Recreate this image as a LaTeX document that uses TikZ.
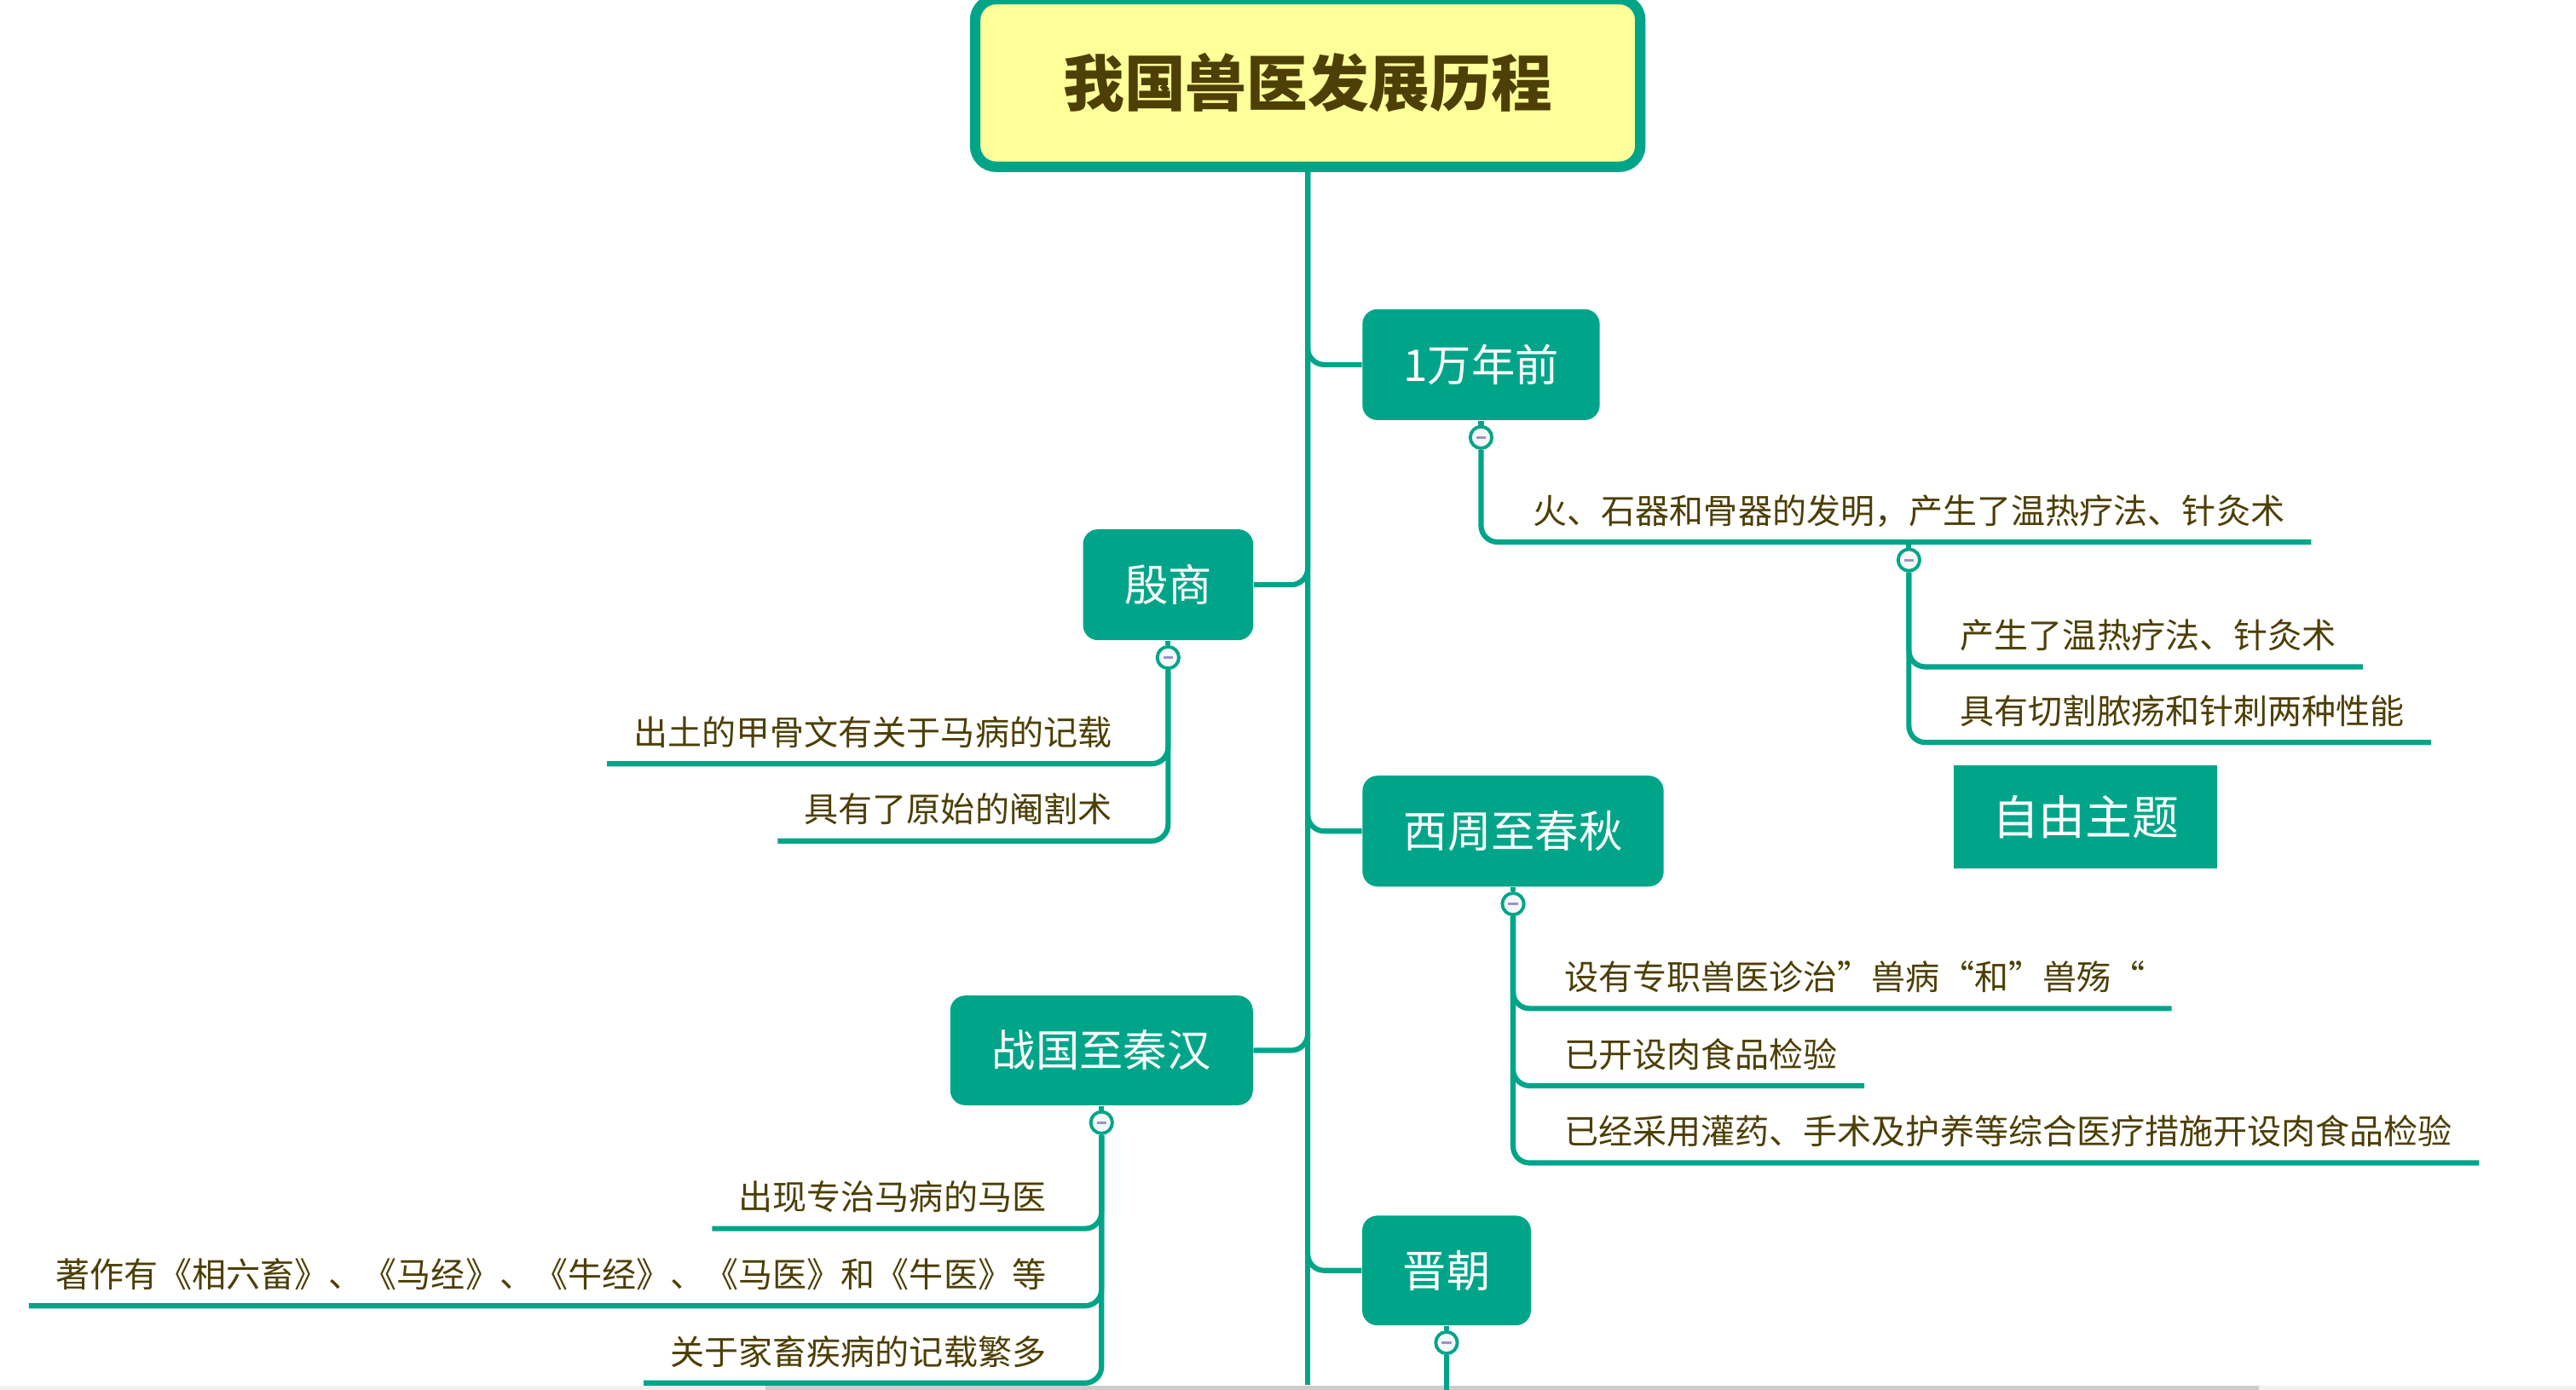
\documentclass[tikz,border=0pt]{standalone}
\usepackage{fontspec}
\setmainfont{Noto Sans CJK SC}
\definecolor{xteal}{RGB}{0,165,137}
\definecolor{xtext}{RGB}{77,63,5}
\definecolor{xroot}{RGB}{255,255,153}
\definecolor{xminus}{RGB}{150,150,200}
\begin{document}
\begin{tikzpicture}[x=0.019273cm,y=-0.019273cm,
  conn/.style={draw=xteal,line width=1.75pt,rounded corners=5.5pt},
  topic/.style={fill=xteal,text=white,rounded corners=5pt,inner sep=0pt,
    font=\fontsize{14.6}{16}\selectfont,minimum height=37pt},
  sub/.style={text=xtext,font=\fontsize{11.4}{13}\selectfont,inner xsep=8.7pt,
    inner ysep=0pt,text depth=6pt,text height=10pt},
  fold/.style={circle,draw=xteal,fill=black!3,line width=1.1pt,minimum size=7.2pt,inner sep=0pt,
    path picture={\draw[line width=0.9pt,draw=xminus]
      ([xshift=-1.6pt]path picture bounding box.center) -- ([xshift=1.6pt]path picture bounding box.center);}}
]
\useasboundingbox (0,0) rectangle (1568,846);
% scrollbar strip
\fill[black!6] (0,843.5) rectangle (1568,846);
\fill[black!20] (466,843.5) rectangle (1375,846);

% root
\node[draw=xteal,fill=xroot,line width=3.5pt,rounded corners=7pt,minimum width=222pt,
  minimum height=56pt,text=xtext,font=\fontsize{20.4}{24}\selectfont\bfseries] (root) at (796,50.5) {我国兽医发展历程};
\coordinate (trunkend) at (796,843);
\draw[conn] (root.south) -- (trunkend);

% topics
\node[topic,minimum width=79.2pt] (b1) at (901.5,222) {1万年前};
\node[topic,minimum width=56.8pt] (b2) at (711,356) {殷商};
\node[topic,minimum width=100.5pt] (b3) at (921,506) {西周至春秋};
\node[topic,minimum width=101pt,minimum height=36.6pt] (b4) at (670.5,639.5) {战国至秦汉};
\node[topic,minimum width=56.3pt,minimum height=36.6pt] (b5) at (880.5,773.5) {晋朝};
\node[fill=xteal,text=white,inner sep=0pt,font=\fontsize{15.6}{18}\selectfont,
  minimum width=88pt,minimum height=34.4pt] (free) at (1269.5,497.5) {自由主题};

\draw[conn] (root.south) |- (b1.west);
\draw[conn] (root.south) |- (b2.east);
\draw[conn] (root.south) |- (b3.west);
\draw[conn] (root.south) |- (b4.east);
\draw[conn] (root.south) |- (b5.west);

% fold markers
\foreach \b in {b1,b2,b3,b4,b5}{
  \node[fold] (f\b) at ([yshift=-5.6pt]\b.south) {};
  \draw[conn] (\b.south) -- (f\b.north);
}

% 1万年前
\node[sub,anchor=south west] (s11) at (917,330) {火、石器和骨器的发明，产生了温热疗法、针灸术};
\draw[conn] (fb1.south) |- (s11.south east);
\node[fold] (f11) at ([yshift=-6pt]s11.south) {};
\draw[conn] (s11.south) -- (f11.north);
\node[sub,anchor=south west] (s111) at (1177,406) {产生了温热疗法、针灸术};
\node[sub,anchor=south west] (s112) at (1177,452) {具有切割脓疡和针刺两种性能};
\draw[conn] (f11.south) |- (s111.south east);
\draw[conn] (f11.south) |- (s112.south east);

% 殷商
\node[sub,anchor=south east] (s21) at (693,465) {出土的甲骨文有关于马病的记载};
\node[sub,anchor=south east] (s22) at (693,512) {具有了原始的阉割术};
\draw[conn] (fb2.south) |- (s21.south west);
\draw[conn] (fb2.south) |- (s22.south west);

% 西周至春秋
\node[sub,anchor=south west] (s31) at (936,614) {设有专职兽医诊治”兽病“和”兽殇“};
\node[sub,anchor=south west] (s32) at (936,661) {已开设肉食品检验};
\node[sub,anchor=south west] (s33) at (936,708) {已经采用灌药、手术及护养等综合医疗措施开设肉食品检验};
\draw[conn] (fb3.south) |- (s31.south east);
\draw[conn] (fb3.south) |- (s32.south east);
\draw[conn] (fb3.south) |- (s33.south east);

% 战国至秦汉
\node[sub,anchor=south east] (s41) at (653,748) {出现专治马病的马医};
\node[sub,anchor=south east] (s42) at (653,795) {著作有《相六畜》、《马经》、《牛经》、《马医》和《牛医》等};
\node[sub,anchor=south east] (s43) at (653,842) {关于家畜疾病的记载繁多};
\draw[conn] (fb4.south) |- (s41.south west);
\draw[conn] (fb4.south) |- (s42.south west);
\draw[conn] (fb4.south) |- (s43.south west);

% 晋朝
\coordinate (jinend) at (880.5,846);
\draw[conn] (fb5.south) -- (jinend);
\end{tikzpicture}
\end{document}
